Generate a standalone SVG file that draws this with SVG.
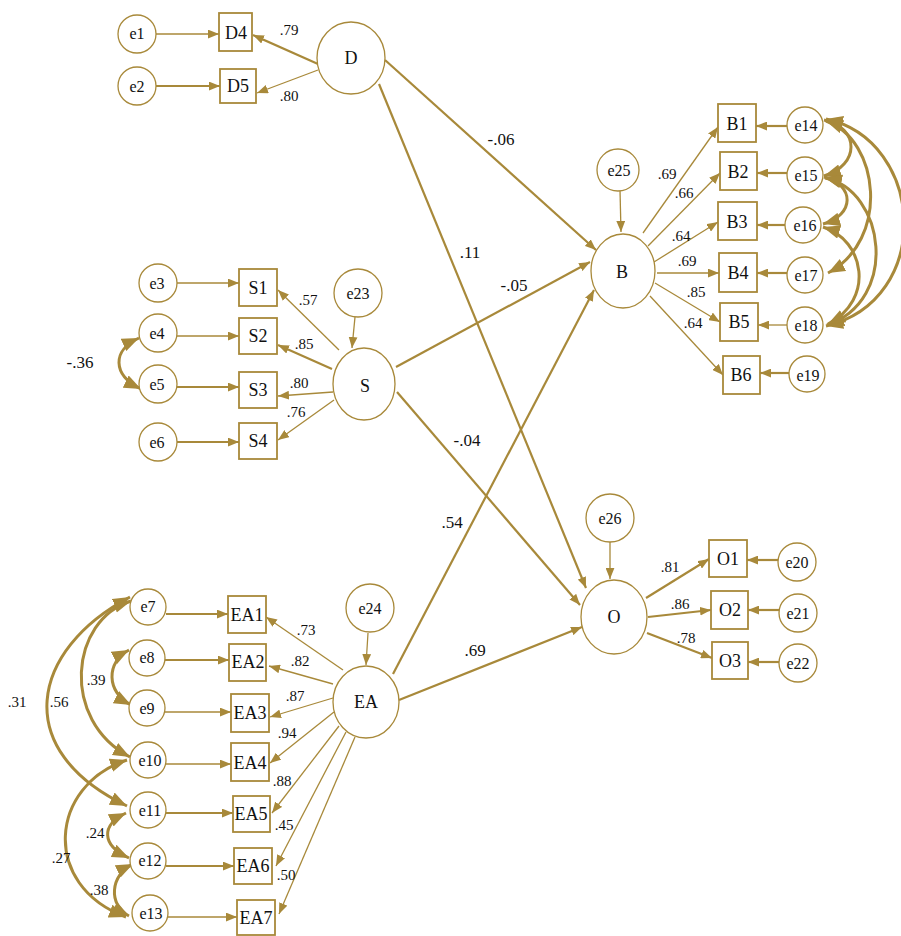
<svg xmlns="http://www.w3.org/2000/svg" width="901" height="936" viewBox="0 0 901 936">
<style>
.ln{stroke:#A8893A;fill:none;stroke-width:1.3}
.tk{stroke:#A8893A;fill:none;stroke-width:2.2}
.cv{stroke:#A8893A;fill:none;stroke-width:3}
.nd{stroke:#A8893A;fill:#fff;stroke-width:1.3}
.bx{stroke:#A8893A;fill:#fff;stroke-width:1.8}
text{font-family:"Liberation Serif","Times New Roman",serif;fill:#111;text-anchor:middle;dominant-baseline:central}
.t{font-size:18px}
.e{font-size:16px}
.l{font-size:15px}
.s{font-size:17px}
</style>
<defs>
<marker id="a" viewBox="0 0 10 8" refX="10" refY="4" markerWidth="11" markerHeight="9" markerUnits="userSpaceOnUse" orient="auto-start-reverse"><path d="M0,0 L10,4 L0,8 z" fill="#A8893A"/></marker>
<marker id="b" viewBox="0 0 15 12" refX="15" refY="6" markerWidth="17" markerHeight="14" markerUnits="userSpaceOnUse" orient="auto-start-reverse"><path d="M0,0 L15,6 L0,12 z" fill="#A8893A"/></marker>
</defs>
<g id="connectors">
<line class="ln" x1="156" y1="34" x2="219" y2="34" marker-end="url(#a)"/>
<line class="tk" x1="156" y1="86" x2="220" y2="86" marker-end="url(#a)"/>
<line class="tk" x1="318" y1="64" x2="253" y2="35" marker-end="url(#a)"/>
<line class="ln" x1="318" y1="70" x2="257" y2="93" marker-end="url(#a)"/>
<line class="ln" x1="177" y1="283" x2="239" y2="283" marker-end="url(#a)"/>
<line class="ln" x1="177" y1="336" x2="239" y2="336" marker-end="url(#a)"/>
<line class="tk" x1="177" y1="387" x2="239" y2="387" marker-end="url(#a)"/>
<line class="tk" x1="177" y1="442" x2="239" y2="442" marker-end="url(#a)"/>
<line class="ln" x1="339" y1="350" x2="278" y2="290" marker-end="url(#a)"/>
<line class="tk" x1="332" y1="369" x2="278" y2="345" marker-end="url(#a)"/>
<line class="ln" x1="333" y1="392" x2="278" y2="396" marker-end="url(#a)"/>
<line class="ln" x1="334" y1="400" x2="278" y2="440" marker-end="url(#a)"/>
<line class="ln" x1="355" y1="317" x2="352" y2="348" marker-end="url(#a)"/>
<path class="cv" d="M139,338 C112,350 112,375 141,389" marker-start="url(#b)" marker-end="url(#b)"/>
<line class="tk" x1="166" y1="614" x2="228" y2="614" marker-end="url(#a)"/>
<line class="tk" x1="165" y1="660" x2="229" y2="660" marker-end="url(#a)"/>
<line class="ln" x1="165" y1="712" x2="231" y2="712" marker-end="url(#a)"/>
<line class="ln" x1="166" y1="764" x2="231" y2="764" marker-end="url(#a)"/>
<line class="tk" x1="166" y1="813" x2="233" y2="813" marker-end="url(#a)"/>
<line class="tk" x1="166" y1="866" x2="234" y2="866" marker-end="url(#a)"/>
<line class="ln" x1="168" y1="917" x2="237" y2="917" marker-end="url(#a)"/>
<line class="ln" x1="343" y1="670" x2="266" y2="617" marker-end="url(#a)"/>
<line class="ln" x1="333" y1="684" x2="269" y2="666" marker-end="url(#a)"/>
<line class="ln" x1="333" y1="698" x2="270" y2="717" marker-end="url(#a)"/>
<line class="ln" x1="334" y1="712" x2="270" y2="763" marker-end="url(#a)"/>
<line class="ln" x1="339" y1="726" x2="272" y2="813" marker-end="url(#a)"/>
<line class="ln" x1="346" y1="732" x2="276" y2="866" marker-end="url(#a)"/>
<line class="ln" x1="355" y1="737" x2="279" y2="914" marker-end="url(#a)"/>
<line class="ln" x1="368" y1="633" x2="366" y2="665" marker-end="url(#a)"/>
<path class="cv" d="M130,597 C30,650 10,750 127,806" marker-start="url(#b)" marker-end="url(#b)"/>
<path class="cv" d="M131,601 C70,620 60,720 130,757" marker-start="url(#b)" marker-end="url(#b)"/>
<path class="cv" d="M129,650 C106,662 106,692 131,705" marker-start="url(#b)" marker-end="url(#b)"/>
<path class="cv" d="M127,760 C50,785 40,885 126,917" marker-start="url(#b)" marker-end="url(#b)"/>
<path class="cv" d="M126,813 C101,825 101,845 129,858" marker-start="url(#b)" marker-end="url(#b)"/>
<path class="cv" d="M133,864 C110,875 108,905 129,916" marker-start="url(#b)" marker-end="url(#b)"/>
<line class="tk" x1="385" y1="60" x2="596" y2="250" marker-end="url(#a)"/>
<line class="tk" x1="379" y1="84" x2="586" y2="588" marker-end="url(#a)"/>
<line class="tk" x1="396" y1="367" x2="590" y2="262" marker-end="url(#a)"/>
<line class="tk" x1="397" y1="392" x2="580" y2="605" marker-end="url(#a)"/>
<line class="tk" x1="393" y1="674" x2="594" y2="290" marker-end="url(#a)"/>
<line class="tk" x1="399" y1="700" x2="582" y2="627" marker-end="url(#a)"/>
<line class="ln" x1="620" y1="190" x2="621" y2="232" marker-end="url(#a)"/>
<line class="ln" x1="643" y1="233" x2="718" y2="127" marker-end="url(#a)"/>
<line class="ln" x1="648" y1="246" x2="720" y2="173" marker-end="url(#a)"/>
<line class="ln" x1="654" y1="262" x2="718" y2="222" marker-end="url(#a)"/>
<line class="ln" x1="657" y1="273" x2="719" y2="273" marker-end="url(#a)"/>
<line class="ln" x1="655" y1="283" x2="720" y2="322" marker-end="url(#a)"/>
<line class="ln" x1="650" y1="296" x2="723" y2="375" marker-end="url(#a)"/>
<line class="tk" x1="787" y1="126" x2="756" y2="126" marker-end="url(#a)"/>
<line class="tk" x1="787" y1="173" x2="757" y2="173" marker-end="url(#a)"/>
<line class="tk" x1="785" y1="225" x2="757" y2="225" marker-end="url(#a)"/>
<line class="tk" x1="787" y1="273" x2="757" y2="273" marker-end="url(#a)"/>
<line class="ln" x1="787" y1="325" x2="758" y2="325" marker-end="url(#a)"/>
<line class="tk" x1="789" y1="373" x2="760" y2="373" marker-end="url(#a)"/>
<path class="cv" d="M824,120 C860,128 860,165 824,176" marker-start="url(#b)" marker-end="url(#b)"/>
<path class="cv" d="M826,121 C880,140 890,240 828,273" marker-start="url(#b)" marker-end="url(#b)"/>
<path class="cv" d="M826,119 C925,140 935,300 826,326" marker-start="url(#b)" marker-end="url(#b)"/>
<path class="cv" d="M824,177 C855,185 855,215 823,224" marker-start="url(#b)" marker-end="url(#b)"/>
<path class="cv" d="M825,178 C885,190 900,300 827,325" marker-start="url(#b)" marker-end="url(#b)"/>
<path class="cv" d="M823,227 C865,240 875,300 828,324" marker-start="url(#b)" marker-end="url(#b)"/>
<line class="ln" x1="610" y1="542" x2="610" y2="579" marker-end="url(#a)"/>
<line class="tk" x1="646" y1="598" x2="709" y2="559" marker-end="url(#a)"/>
<line class="tk" x1="648" y1="617" x2="711" y2="610" marker-end="url(#a)"/>
<line class="tk" x1="647" y1="633" x2="712" y2="658" marker-end="url(#a)"/>
<line class="tk" x1="778" y1="560" x2="747" y2="560" marker-end="url(#a)"/>
<line class="tk" x1="779" y1="610" x2="748" y2="610" marker-end="url(#a)"/>
<line class="tk" x1="779" y1="662" x2="748" y2="662" marker-end="url(#a)"/>
</g>
<g id="labels">
<text class="l" x="289" y="30">.79</text>
<text class="l" x="289" y="96">.80</text>
<text class="l" x="308" y="300">.57</text>
<text class="l" x="304" y="344">.85</text>
<text class="l" x="299" y="383">.80</text>
<text class="l" x="296" y="412">.76</text>
<text class="s" x="80" y="362">-.36</text>
<text class="l" x="306" y="630">.73</text>
<text class="l" x="300" y="661">.82</text>
<text class="l" x="295" y="696">.87</text>
<text class="l" x="287" y="733">.94</text>
<text class="l" x="282" y="781">.88</text>
<text class="l" x="284" y="825">.45</text>
<text class="l" x="286" y="875">.50</text>
<text class="l" x="17" y="702">.31</text>
<text class="l" x="59" y="702">.56</text>
<text class="l" x="96" y="680">.39</text>
<text class="l" x="95" y="833">.24</text>
<text class="l" x="61" y="858">.27</text>
<text class="l" x="99" y="890">.38</text>
<text class="s" x="501" y="139">-.06</text>
<text class="s" x="470" y="252">.11</text>
<text class="s" x="514" y="285">-.05</text>
<text class="s" x="467" y="440">-.04</text>
<text class="s" x="452" y="522">.54</text>
<text class="s" x="475" y="650">.69</text>
<text class="l" x="667" y="174">.69</text>
<text class="l" x="684" y="193">.66</text>
<text class="l" x="681" y="236">.64</text>
<text class="l" x="687" y="261">.69</text>
<text class="l" x="696" y="292">.85</text>
<text class="l" x="693" y="323">.64</text>
<text class="l" x="670" y="567">.81</text>
<text class="l" x="680" y="604">.86</text>
<text class="l" x="686" y="638">.78</text>
</g>
<g id="D"><ellipse class="nd" cx="351" cy="58" rx="34" ry="36"/><text class="t" x="351" y="58">D</text></g>
<g id="D4"><rect class="bx" x="219" y="13" width="33" height="38"/><text class="t" x="236" y="33">D4</text></g>
<g id="D5"><rect class="bx" x="220" y="69" width="36" height="34"/><text class="t" x="238" y="86">D5</text></g>
<g id="e1"><circle class="nd" cx="137" cy="34" r="19"/><text class="e" x="137" y="33">e1</text></g>
<g id="e2"><circle class="nd" cx="137" cy="86" r="19"/><text class="e" x="137" y="86">e2</text></g>
<g id="S"><ellipse class="nd" cx="364" cy="384" rx="31" ry="36"/><text class="t" x="365" y="386">S</text></g>
<g id="S1"><rect class="bx" x="239" y="269" width="38" height="37"/><text class="t" x="258" y="288">S1</text></g>
<g id="S2"><rect class="bx" x="239" y="318" width="38" height="36"/><text class="t" x="258" y="336">S2</text></g>
<g id="S3"><rect class="bx" x="239" y="372" width="38" height="36"/><text class="t" x="258" y="390">S3</text></g>
<g id="S4"><rect class="bx" x="239" y="423" width="38" height="36"/><text class="t" x="258" y="441">S4</text></g>
<g id="e3"><circle class="nd" cx="158" cy="283" r="19"/><text class="e" x="157" y="283">e3</text></g>
<g id="e4"><circle class="nd" cx="158" cy="333" r="19"/><text class="e" x="157" y="333">e4</text></g>
<g id="e5"><circle class="nd" cx="158" cy="384" r="19"/><text class="e" x="157" y="384">e5</text></g>
<g id="e6"><circle class="nd" cx="158" cy="442" r="19"/><text class="e" x="157" y="442">e6</text></g>
<g id="e23"><circle class="nd" cx="358" cy="293" r="24"/><text class="e" x="358" y="293">e23</text></g>
<g id="EA"><ellipse class="nd" cx="366" cy="702" rx="33" ry="36"/><text class="t" x="366" y="702">EA</text></g>
<g id="e24"><circle class="nd" cx="370" cy="608" r="24"/><text class="e" x="370" y="608">e24</text></g>
<g id="EA1"><rect class="bx" x="228" y="596" width="38" height="37"/><text class="t" x="247" y="615">EA1</text></g>
<g id="EA2"><rect class="bx" x="229" y="644" width="37" height="37"/><text class="t" x="248" y="662">EA2</text></g>
<g id="EA3"><rect class="bx" x="231" y="694" width="38" height="38"/><text class="t" x="250" y="713">EA3</text></g>
<g id="EA4"><rect class="bx" x="231" y="743" width="38" height="38"/><text class="t" x="250" y="763">EA4</text></g>
<g id="EA5"><rect class="bx" x="233" y="796" width="37" height="36"/><text class="t" x="251" y="814">EA5</text></g>
<g id="EA6"><rect class="bx" x="234" y="848" width="38" height="36"/><text class="t" x="253" y="866">EA6</text></g>
<g id="EA7"><rect class="bx" x="237" y="900" width="38" height="35"/><text class="t" x="256" y="918">EA7</text></g>
<g id="e7"><circle class="nd" cx="148" cy="607" r="18"/><text class="e" x="148" y="606">e7</text></g>
<g id="e8"><circle class="nd" cx="147" cy="658" r="18"/><text class="e" x="147" y="657">e8</text></g>
<g id="e9"><circle class="nd" cx="147" cy="708" r="18"/><text class="e" x="147" y="708">e9</text></g>
<g id="e10"><circle class="nd" cx="148" cy="760" r="18"/><text class="e" x="150" y="760">e10</text></g>
<g id="e11"><circle class="nd" cx="148" cy="810" r="18"/><text class="e" x="150" y="810">e11</text></g>
<g id="e12"><circle class="nd" cx="148" cy="861" r="18"/><text class="e" x="150" y="860">e12</text></g>
<g id="e13"><circle class="nd" cx="150" cy="913" r="18"/><text class="e" x="151" y="913">e13</text></g>
<g id="B"><ellipse class="nd" cx="623" cy="271" rx="32" ry="37"/><text class="t" x="622" y="272">B</text></g>
<g id="e25"><circle class="nd" cx="618" cy="170" r="21"/><text class="e" x="619" y="170">e25</text></g>
<g id="B1"><rect class="bx" x="718" y="104" width="38" height="38"/><text class="t" x="737" y="124">B1</text></g>
<g id="B2"><rect class="bx" x="720" y="152" width="37" height="38"/><text class="t" x="738" y="172">B2</text></g>
<g id="B3"><rect class="bx" x="718" y="202" width="39" height="38"/><text class="t" x="737" y="222">B3</text></g>
<g id="B4"><rect class="bx" x="719" y="253" width="38" height="39"/><text class="t" x="738" y="273">B4</text></g>
<g id="B5"><rect class="bx" x="720" y="303" width="38" height="38"/><text class="t" x="739" y="322">B5</text></g>
<g id="B6"><rect class="bx" x="723" y="356" width="37" height="38"/><text class="t" x="741" y="375">B6</text></g>
<g id="e14"><circle class="nd" cx="805" cy="125" r="18"/><text class="e" x="806" y="125">e14</text></g>
<g id="e15"><circle class="nd" cx="805" cy="175" r="18"/><text class="e" x="806" y="175">e15</text></g>
<g id="e16"><circle class="nd" cx="803" cy="225" r="18"/><text class="e" x="805" y="225">e16</text></g>
<g id="e17"><circle class="nd" cx="805" cy="275" r="18"/><text class="e" x="806" y="275">e17</text></g>
<g id="e18"><circle class="nd" cx="805" cy="325" r="18"/><text class="e" x="806" y="325">e18</text></g>
<g id="e19"><circle class="nd" cx="807" cy="374" r="18"/><text class="e" x="808" y="375">e19</text></g>
<g id="O"><ellipse class="nd" cx="614" cy="617" rx="33" ry="37"/><text class="t" x="614" y="617">O</text></g>
<g id="e26"><circle class="nd" cx="610" cy="518" r="24"/><text class="e" x="610" y="518">e26</text></g>
<g id="O1"><rect class="bx" x="709" y="540" width="38" height="37"/><text class="t" x="728" y="559">O1</text></g>
<g id="O2"><rect class="bx" x="711" y="591" width="37" height="38"/><text class="t" x="730" y="610">O2</text></g>
<g id="O3"><rect class="bx" x="712" y="642" width="36" height="37"/><text class="t" x="730" y="661">O3</text></g>
<g id="e20"><circle class="nd" cx="797" cy="562" r="19"/><text class="e" x="797" y="562">e20</text></g>
<g id="e21"><circle class="nd" cx="798" cy="613" r="19"/><text class="e" x="798" y="613">e21</text></g>
<g id="e22"><circle class="nd" cx="798" cy="663" r="19"/><text class="e" x="798" y="663">e22</text></g>
</svg>
